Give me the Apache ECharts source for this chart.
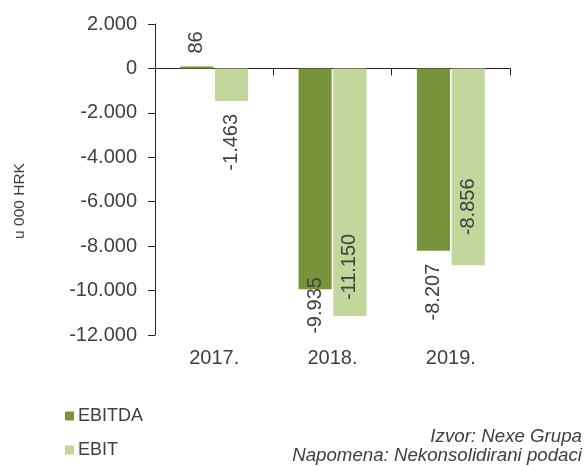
<!DOCTYPE html>
<html>
<head>
<meta charset="utf-8">
<script src="https://cdn.jsdelivr.net/npm/echarts@6/dist/echarts.min.js"></script>
<style>
  html, body { margin: 0; padding: 0; background: #fff; }
  #chart { width: 586px; height: 466px; }
</style>
</head>
<body>
<div id="chart"></div>
<script>
// 数据
const years = ['2017.', '2018.', '2019.']
const ebitda = [86, -9935, -8207]
const ebit = [-1463, -11150, -8856]

const FONT = '"Liberation Sans", Arial, sans-serif'
const TEXT = '#404040'

// 千位分隔符用点
const fmt = (v) => {
  const s = Math.abs(v).toString().replace(/\B(?=(\d{3})+(?!\d))/g, '.')
  return (v < 0 ? '-' : '') + s
}

// 标签位置：外侧 / 内侧
const outside = (v, d) => ({
  show: true,
  position: v >= 0 ? 'top' : 'bottom',
  align: v >= 0 ? 'left' : 'right',
  distance: d
})
const inside = (d) => ({ show: true, position: 'insideBottom', align: 'left', distance: d })

const ebitdaLabels = [outside(ebitda[0], 13), { show: true, position: 'insideBottom', align: 'right', distance: 12 }, outside(ebitda[2], 13)]
const ebitLabels = [outside(ebit[0], 13), inside(16), inside(30)]

const chart = echarts.init(document.getElementById('chart'))

const baseLabel = {
  rotate: 90,
  verticalAlign: 'middle',
  fontSize: 20,
  fontFamily: FONT,
  color: TEXT,
  formatter: (p) => fmt(p.value)
}

const option = {
  animation: false,
  textStyle: { fontFamily: FONT },
  grid: { left: 155, right: 76, top: 24, bottom: 131, containLabel: false },
  legend: {
    orient: 'vertical',
    left: 65,
    top: 407,
    padding: 0,
    itemGap: 16,
    itemWidth: 9,
    itemHeight: 9,
    icon: 'rect',
    textStyle: { fontSize: 18, color: TEXT, fontFamily: FONT, padding: [0, 0, 0, -1] },
    data: ['EBITDA', 'EBIT']
  },
  xAxis: [
    {
      type: 'category',
      data: years,
      axisLine: { onZero: true, lineStyle: { color: '#262626', width: 1 } },
      axisTick: { show: true, length: 7, lineStyle: { color: '#262626' } },
      axisLabel: { show: false },
      splitLine: { show: false }
    },
    {
      type: 'category',
      data: years,
      position: 'bottom',
      axisLine: { show: false, onZero: false },
      axisTick: { show: false },
      axisLabel: { fontSize: 20, color: TEXT, fontFamily: FONT, margin: 13 },
      splitLine: { show: false }
    }
  ],
  yAxis: {
    type: 'value',
    min: -12000,
    max: 2000,
    interval: 2000,
    axisLine: { show: true, lineStyle: { color: '#262626', width: 1 } },
    axisTick: { show: true, length: 7, lineStyle: { color: '#262626' } },
    axisLabel: { fontSize: 20, color: TEXT, fontFamily: FONT, margin: 18, formatter: fmt },
    splitLine: { show: false }
  },
  series: [
    {
      name: 'EBITDA',
      type: 'bar',
      xAxisIndex: 0,
      barWidth: '28%',
      barGap: '5%',
      itemStyle: { color: '#77933C' },
      data: ebitda.map((v, i) => ({ value: v, label: Object.assign({}, baseLabel, ebitdaLabels[i]) }))
    },
    {
      name: 'EBIT',
      type: 'bar',
      xAxisIndex: 0,
      barWidth: '28%',
      barGap: '5%',
      itemStyle: { color: '#C3D69B' },
      data: ebit.map((v, i) => ({ value: v, label: Object.assign({}, baseLabel, ebitLabels[i]) }))
    }
  ],
  graphic: [
    {
      type: 'text',
      x: 20,
      y: 201,
      rotation: Math.PI / 2,
      style: { text: 'u 000 HRK', fontSize: 15.5, fill: TEXT, fontFamily: FONT, align: 'center', verticalAlign: 'middle' }
    },
    {
      type: 'text',
      x: 582,
      y: 437,
      style: { text: 'Izvor: Nexe Grupa', fontSize: 18.7, fontStyle: 'italic', fill: TEXT, fontFamily: FONT, align: 'right', verticalAlign: 'middle' }
    },
    {
      type: 'text',
      x: 582,
      y: 456,
      style: { text: 'Napomena: Nekonsolidirani podaci', fontSize: 18.7, fontStyle: 'italic', fill: TEXT, fontFamily: FONT, align: 'right', verticalAlign: 'middle' }
    }
  ]
}

chart.setOption(option)
window.addEventListener('resize', () => chart.resize())
</script>
</body>
</html>
